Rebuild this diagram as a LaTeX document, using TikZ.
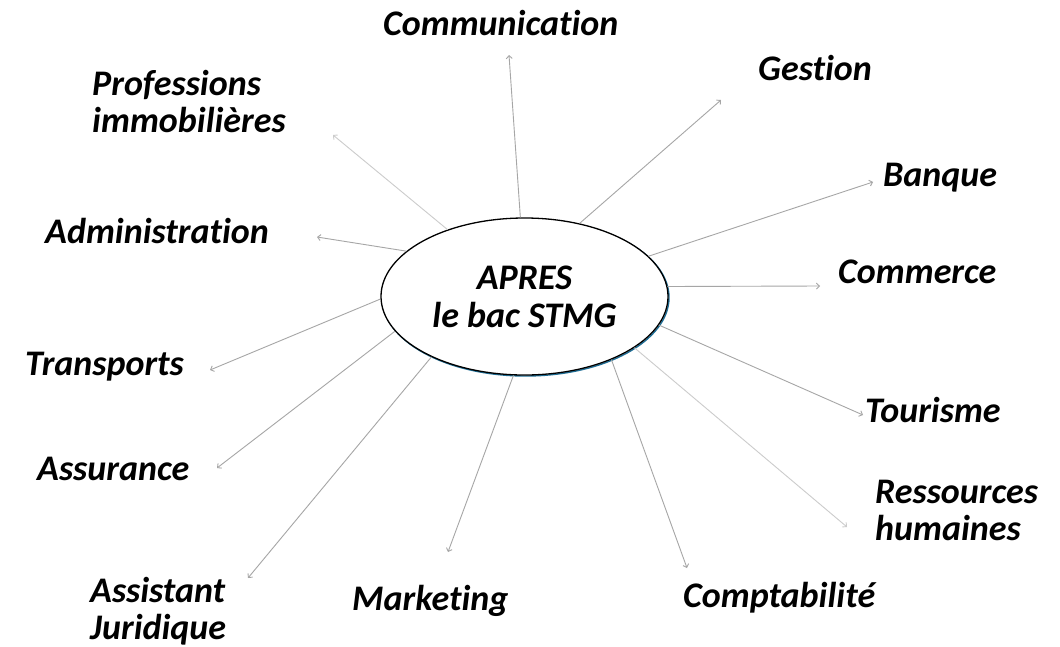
\documentclass[tikz,border=0pt]{standalone}
\usepackage{fontspec}
\setmainfont{Carlito}[Ligatures={NoCommon}]
\usetikzlibrary{arrows.meta,shapes.geometric}
\begin{document}
\begin{tikzpicture}[x=1pt,y=-1pt,
  lbl/.style={anchor=base west, inner sep=0pt, font=\fontsize{36}{37}\selectfont\bfseries\itshape, align=left},
  conn/.style={draw=gray!70, line width=0.9pt, -{Straight Barb[length=3pt,width=6pt]}},
  connlight/.style={conn, draw=gray!40},
  hub/.style={ellipse, draw=black, fill=white, line width=1.3pt, minimum width=287pt, minimum height=157pt, inner sep=0pt, align=center, font=\fontsize{36}{38}\selectfont\bfseries\itshape}
]
\useasboundingbox (0,0) rectangle (1060,646);
\fill[white] (0,0) rectangle (1060,646);
% shadow tint
\draw[color={rgb,255:red,30;green,110;blue,150}, line width=1.4pt] (525.5,297.5) ellipse [x radius=143.5, y radius=78.5];
\node[hub] (c) at (524.5,296.5) {APRES\\le bac STMG};

% labels
\node[lbl] (comm) at (383,35) {Communication};
\node[lbl] (gest) at (758,80) {Gestion};
\node[lbl] (banq) at (883,186) {Banque};
\node[lbl] (comr) at (838,283) {Commerce};
\node[lbl] (tour) at (865,422) {Tourisme};
\node[lbl] (ress) at (875,540) {Ressources\\humaines};
\node[lbl] (comp) at (683,607) {Comptabilité};
\node[lbl] (mark) at (352,610) {Marketing};
\node[lbl] (assi) at (90,639) {Assistant\\Juridique};
\node[lbl] (assu) at (37,480) {Assurance};
\node[lbl] (tran) at (25,375) {Transports};
\node[lbl] (admi) at (45,243) {Administration};
\node[lbl] (prof) at (92,132) {Professions\\immobilières};

% arrow tips
\coordinate (tComm) at (509,55);
\coordinate (tGest) at (721,100);
\coordinate (tBanq) at (873,182);
\coordinate (tComr) at (820,286);
\coordinate (tTour) at (863,415);
\coordinate (tRess) at (847,527);
\coordinate (tComp) at (687,568);
\coordinate (tMark) at (448,552);
\coordinate (tAssi) at (248,578);
\coordinate (tAssu) at (217,468);
\coordinate (tTran) at (210,370);
\coordinate (tAdmi) at (317,237);
\coordinate (tProf) at (333,135);

% connectors
\draw[conn] (c.93.2) -- (tComm);
\draw[conn] (c.53.8) -- (tGest);
\draw[conn] (c.18.7) -- (tBanq);
\draw[conn] (c.4.2) -- (tComr);
\draw[conn] (c.-12.3) -- (tTour);
\draw[connlight] (c.-25.3) -- (tRess);
\draw[conn] (c.-36.5) -- (tComp);
\draw[conn] (c.262) -- (tMark);
\draw[conn] (c.213.6) -- (tAssi);
\draw[conn] (c.195.7) -- (tAssu);
\draw[conn] (c.181) -- (tTran);
\draw[conn] (c.159.9) -- (tAdmi);
\draw[connlight] (c.139.7) -- (tProf);
\end{tikzpicture}
\end{document}
